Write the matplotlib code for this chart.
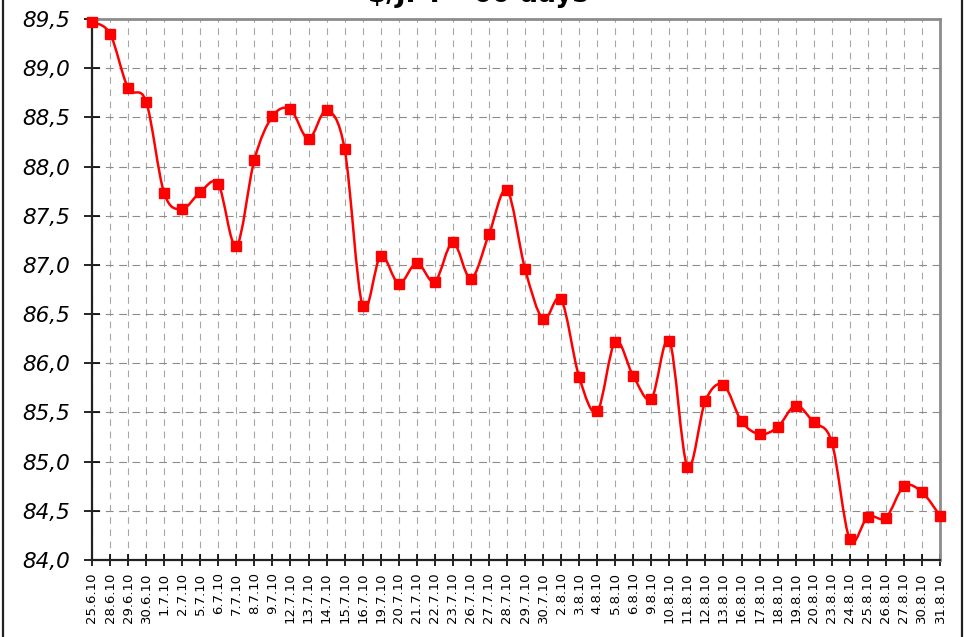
import matplotlib
matplotlib.use("Agg")
import matplotlib.pyplot as plt
from matplotlib.path import Path
from matplotlib.patches import PathPatch
from matplotlib.lines import Line2D
import numpy as np

title = "$/JPY - 60 days"
dates = ["25.6.10", "28.6.10", "29.6.10", "30.6.10", "1.7.10", "2.7.10", "5.7.10", "6.7.10",
         "7.7.10", "8.7.10", "9.7.10", "12.7.10", "13.7.10", "14.7.10", "15.7.10", "16.7.10",
         "19.7.10", "20.7.10", "21.7.10", "22.7.10", "23.7.10", "26.7.10", "27.7.10", "28.7.10",
         "29.7.10", "30.7.10", "2.8.10", "3.8.10", "4.8.10", "5.8.10", "6.8.10", "9.8.10",
         "10.8.10", "11.8.10", "12.8.10", "13.8.10", "16.8.10", "17.8.10", "18.8.10", "19.8.10",
         "20.8.10", "23.8.10", "24.8.10", "25.8.10", "26.8.10", "27.8.10", "30.8.10", "31.8.10"]
rates = [89.47, 89.35, 88.80, 88.66, 87.73, 87.57, 87.74, 87.82,
         87.19, 88.07, 88.51, 88.58, 88.28, 88.57, 88.18, 86.58,
         87.09, 86.81, 87.02, 86.83, 87.23, 86.86, 87.31, 87.76,
         86.96, 86.45, 86.65, 85.86, 85.51, 86.22, 85.87, 85.64,
         86.23, 84.95, 85.62, 85.78, 85.41, 85.28, 85.35, 85.57,
         85.40, 85.20, 84.21, 84.44, 84.43, 84.75, 84.69, 84.45]
y_ticks = [84.0, 84.5, 85.0, 85.5, 86.0, 86.5, 87.0, 87.5, 88.0, 88.5, 89.0, 89.5]

plt.rcParams['font.family'] = ['DejaVu Sans']

W, H = 966, 637
fig = plt.figure(figsize=(W / 100, H / 100), dpi=100)
ax = fig.add_axes([92 / W, 1 - 560 / H, (940 - 92) / W, (560 - 19) / H])

x = np.arange(len(rates), dtype=float)
y = np.array(rates)

# smoothed line (Catmull-Rom style Bezier, like Excel's smoothed line)
verts = [(x[0], y[0])]
codes = [Path.MOVETO]
n = len(x)
for i in range(n - 1):
    p0 = np.array([x[max(i - 1, 0)], y[max(i - 1, 0)]])
    p1 = np.array([x[i], y[i]])
    p2 = np.array([x[i + 1], y[i + 1]])
    p3 = np.array([x[min(i + 2, n - 1)], y[min(i + 2, n - 1)]])
    c1 = p1 + (p2 - p0) / 6.0
    c2 = p2 - (p3 - p1) / 6.0
    verts += [tuple(c1), tuple(c2), tuple(p2)]
    codes += [Path.CURVE4, Path.CURVE4, Path.CURVE4]
patch = PathPatch(Path(verts, codes), facecolor='none', edgecolor='#FF0000', lw=1.8, zorder=3,
                  clip_on=True)
ax.add_patch(patch)
ax.plot(x, y, linestyle='none', marker='s', markersize=7, color='#FF0000',
        markeredgecolor='#FF0000', zorder=4, clip_on=False)

ax.set_xlim(0, n - 1)
ax.set_ylim(84.0, 89.5)
ax.set_xticks(x)
ax.set_xticklabels(dates, rotation=90, fontsize=9.5)
ax.set_yticks(y_ticks)
ax.set_yticklabels([f"{v:.1f}".replace('.', ',') for v in y_ticks], fontsize=15.5, style='italic')

ax.grid(True, axis='y', color='#8c8c8c', linestyle=(0, (7, 5)), lw=0.8)
ax.grid(True, axis='x', color='#a6a6a6', linestyle=(0, (6, 5)), lw=0.8)
ax.set_axisbelow(True)

ax.tick_params(axis='y', direction='inout', length=12, width=1.2, pad=9.5, color='black')
ax.tick_params(axis='x', direction='inout', length=8, width=1.2, pad=5, color='black')

for s in ['left', 'bottom']:
    ax.spines[s].set_color('#222222')
    ax.spines[s].set_linewidth(1.6)
for s in ['top', 'right']:
    ax.spines[s].set_color('#8c8c8c')
    ax.spines[s].set_linewidth(2.0)

fig.text(478 / W, 1 - 2 / H, title, ha='center', va='baseline', fontsize=19, fontweight='bold')

# outer chart frame
fig.add_artist(Line2D([2.5 / W, 2.5 / W], [0, 1], color='#222222', lw=1.6, transform=fig.transFigure))
fig.add_artist(Line2D([961.5 / W, 961.5 / W], [0, 1], color='#222222', lw=1.6, transform=fig.transFigure))

fig.savefig("out.png", dpi=100)
